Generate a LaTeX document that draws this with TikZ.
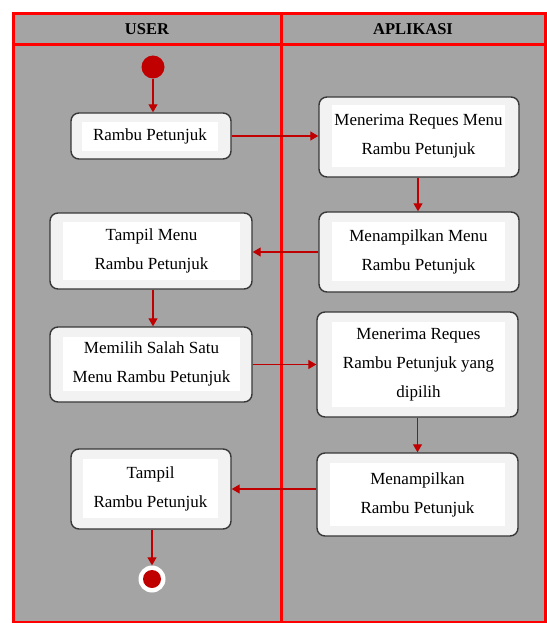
\documentclass[tikz,border=0pt]{standalone}
\usepackage{fontspec}
\setmainfont{Liberation Serif}
\usetikzlibrary{arrows.meta}
\definecolor{bg}{HTML}{A4A4A4}
\definecolor{frame}{HTML}{FF0000}
\definecolor{arr}{HTML}{C00000}
\definecolor{boxfill}{HTML}{F2F2F2}
\definecolor{boxline}{HTML}{383838}
\begin{document}
\begin{tikzpicture}[x=1pt,y=-1pt,
  actbox/.style={draw=boxline,line width=1.4pt,fill=boxfill,rounded corners=8pt,inner sep=0pt},
  inbox/.style={fill=white,inner sep=0pt,align=center,font=\fontsize{17}{29}\selectfont},
  flow/.style={draw=arr,line width=1.2pt,-{Triangle[length=8pt,width=9pt]}},
  lane/.style={draw=frame,line width=3pt},
  head/.style={font=\fontsize{16.5}{18}\selectfont\bfseries,text=black}]
\useasboundingbox (0,0) rectangle (546,623);
\fill[white] (0,0) rectangle (546,623);
\fill[bg] (13.5,13.5) rectangle (545,622);
% swimlane frame
\draw[lane] (13.5,13.5) rectangle (545,622);
\draw[lane] (13.5,45) -- (545,45);
\draw[lane] (281.5,13.5) -- (281.5,622);
\node[head] (hu) at (147,29) {USER};
\node[head] (ha) at (413,29) {APLIKASI};
% start
\node[circle,fill=arr,minimum size=23pt,inner sep=0pt] (start) at (153,67) {};
% left lane
\node[actbox,minimum width=160pt,minimum height=46pt] (n1) at (151,136) {};
\node[inbox,minimum width=136pt,minimum height=29pt] (n1t) at (150,136.5) {Rambu Petunjuk};
\node[actbox,minimum width=202pt,minimum height=76pt] (n2) at (151,251) {};
\node[inbox,minimum width=177pt,minimum height=58pt] (n2t) at (151.5,251) {Tampil Menu\\Rambu Petunjuk};
\node[actbox,minimum width=202pt,minimum height=75pt] (n3) at (151,364.5) {};
\node[inbox,minimum width=177pt,minimum height=54pt] (n3t) at (151.5,364) {Memilih Salah Satu\\Menu Rambu Petunjuk};
\node[actbox,minimum width=160pt,minimum height=80pt] (n4) at (151,489) {};
\node[inbox,minimum width=135pt,minimum height=59pt] (n4t) at (150.5,488.5) {Tampil\\Rambu Petunjuk};
% end
\node[circle,fill=white,minimum size=27pt,inner sep=0pt] (endo) at (152,579) {};
\node[circle,fill=arr,minimum size=18pt,inner sep=0pt] (endi) at (152,579) {};
% right lane
\node[actbox,minimum width=200pt,minimum height=80pt] (n5) at (419,137) {};
\node[inbox,minimum width=173pt,minimum height=62pt] (n5t) at (418.5,136) {Menerima Reques Menu\\Rambu Petunjuk};
\node[actbox,minimum width=200pt,minimum height=80pt] (n6) at (419,252) {};
\node[inbox,minimum width=173pt,minimum height=59pt] (n6t) at (418.5,251.5) {Menampilkan Menu\\Rambu Petunjuk};
\node[actbox,minimum width=201pt,minimum height=105pt] (n7) at (417.5,364.5) {};
\node[inbox,minimum width=173pt,minimum height=85pt] (n7t) at (418.5,364.5) {Menerima Reques\\Rambu Petunjuk yang\\dipilih};
\node[actbox,minimum width=201pt,minimum height=83pt] (n8) at (417.5,494.5) {};
\node[inbox,minimum width=175pt,minimum height=63pt] (n8t) at (417.5,494.5) {Menampilkan\\Rambu Petunjuk};
% flows
\draw[flow] (start) -- (start |- n1.north);
\draw[flow] (n1.east) -- (n1.east -| n5.west);
\draw[flow] (n5.south -| 418,0) -- (n6.north -| 418,0);
\draw[flow] (n6.west |- 0,252) -- (n2.east |- 0,252);
\draw[flow] (n2.south -| 153,0) -- (n3.north -| 153,0);
\draw[flow] (n3.east) -- (n3.east -| n7.west);
\draw[flow] (n7.south) -- (n8.north);
\draw[flow] (n8.west |- n4.east) -- (n4.east);
\draw[flow] (n4.south -| endo) -- (endo.north);
\end{tikzpicture}
\end{document}
